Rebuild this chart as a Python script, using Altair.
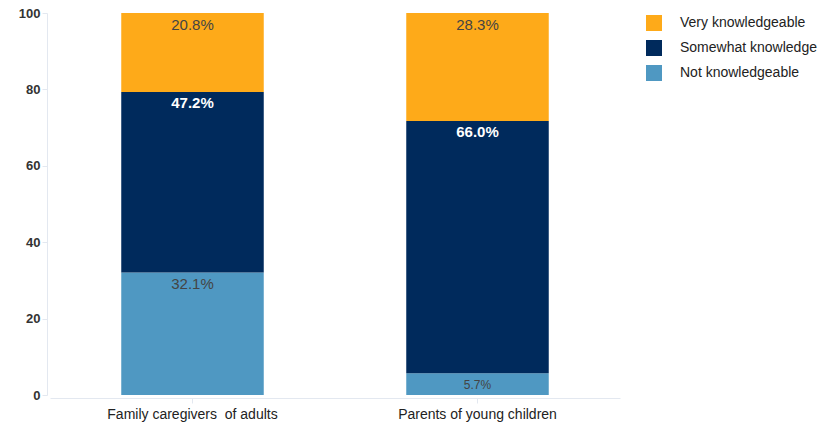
import altair as alt
import pandas as pd

categories = ["Family caregivers \u00a0of adults", "Parents of young children"]
levels = ["Not knowledgeable", "Somewhat knowledge", "Very knowledgeable"]
not_vals = [32.1, 5.7]
somewhat_vals = [47.2, 66.0]
very_vals = [20.8, 28.3]

rows = []
for i, cat in enumerate(categories):
    base = 0.0
    for lvl, vals in zip(levels, [not_vals, somewhat_vals, very_vals]):
        v = vals[i]
        rows.append({"group": cat, "level": lvl, "value": v,
                     "lower": base, "upper": base + v,
                     "label": f"{v:.1f}%"})
        base += v
df = pd.DataFrame(rows)

legend_order = ["Very knowledgeable", "Somewhat knowledge", "Not knowledgeable"]
colors = ["#FEAA19", "#002A5C", "#4F98C2"]

FONT = "Liberation Sans"
AXIS_COLOR = "#E3E8F0"

x_enc = alt.X("group:N", sort=categories, title=None,
              scale=alt.Scale(paddingInner=0.5, paddingOuter=0.25),
              axis=alt.Axis(labelAngle=0, labelFontSize=14, labelColor="#222222",
                            labelFont=FONT, domainColor=AXIS_COLOR, tickColor=AXIS_COLOR,
                            tickSize=5, labelPadding=4, grid=False, offset=3))

bars = alt.Chart(df).mark_bar().encode(
    x=x_enc,
    y=alt.Y("lower:Q", title=None,
            scale=alt.Scale(domain=[0, 100], clamp=True, nice=False),
            axis=alt.Axis(values=[0, 20, 40, 60, 80, 100], grid=False,
                          labelFontSize=13, labelFontWeight="bold", labelColor="#333333",
                          labelFont=FONT, domainColor=AXIS_COLOR, tickColor=AXIS_COLOR,
                          tickSize=5, labelPadding=2, offset=3)),
    y2="upper:Q",
    color=alt.Color("level:N", scale=alt.Scale(domain=legend_order, range=colors),
                    legend=alt.Legend(title=None, orient="none", legendX=596, legendY=2,
                                      symbolType="square", symbolSize=256,
                                      symbolStrokeWidth=0, labelFontSize=14,
                                      labelFont=FONT, labelColor="#222222",
                                      labelOffset=18, rowPadding=9, padding=0)),
)

text = alt.Chart(df).mark_text(baseline="middle", font=FONT, dy=12).encode(
    x=alt.X("group:N", sort=categories),
    y=alt.Y("upper:Q"),
    text="label:N",
    color=alt.condition(alt.datum.level == "Somewhat knowledge",
                        alt.value("#FFFFFF"), alt.value("#444444")),
    size=alt.condition(alt.datum.value < 10, alt.value(12), alt.value(15)),
)

text_bold = text.mark_text(baseline="middle", font=FONT, dy=11, fontWeight="bold")

chart = alt.layer(
    bars,
    text.transform_filter(alt.datum.level != "Somewhat knowledge"),
    text_bold.transform_filter(alt.datum.level == "Somewhat knowledge"),
).properties(
    width=570, height=382,
    autosize=alt.AutoSizeParams(type="none"),
    padding={"left": 42, "top": 5, "right": 201, "bottom": 27},
).configure_view(strokeWidth=0)

chart.save("out.html", embed_options={"renderer": "svg", "actions": False})
